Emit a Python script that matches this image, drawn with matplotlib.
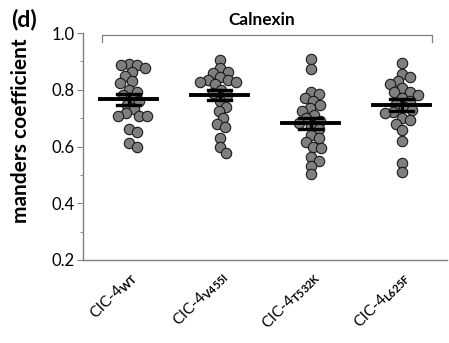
import numpy as np
import matplotlib
matplotlib.use('Agg')
import matplotlib.pyplot as plt

## Data
groups = ['WT', 'V455I', 'T532K', 'L625F']
wt = [0.891, 0.887, 0.887, 0.876, 0.864, 0.848, 0.832, 0.825, 0.80, 0.793, 0.78, 0.77,
      0.76, 0.745, 0.731, 0.717, 0.707, 0.707, 0.707, 0.66, 0.652, 0.613, 0.60]
v455i = [0.905, 0.876, 0.864, 0.858, 0.844, 0.834, 0.834, 0.828, 0.828, 0.82, 0.80, 0.79,
         0.78, 0.76, 0.74, 0.725, 0.70, 0.678, 0.668, 0.629, 0.60, 0.578]
t532k = [0.908, 0.873, 0.791, 0.785, 0.77, 0.762, 0.745, 0.735, 0.726, 0.71, 0.70, 0.69,
         0.682, 0.672, 0.66, 0.64, 0.63, 0.617, 0.60, 0.594, 0.562, 0.55, 0.531, 0.502]
l625f = [0.896, 0.855, 0.844, 0.83, 0.82, 0.805, 0.793, 0.793, 0.78, 0.77, 0.76, 0.75,
         0.74, 0.73, 0.723, 0.717, 0.70, 0.693, 0.68, 0.658, 0.62, 0.541, 0.511]
means = [0.766, 0.781, 0.682, 0.746]
sems = [0.019, 0.018, 0.020, 0.020]
yticks = [0.2, 0.4, 0.6, 0.8, 1.0]

plt.rcParams['font.family'] = ['Lato', 'DejaVu Sans']
plt.rcParams['mathtext.fontset'] = 'custom'
plt.rcParams['mathtext.rm'] = 'Lato'
plt.rcParams['mathtext.bf'] = 'Lato:bold'

W, H = 449, 343
fig = plt.figure(figsize=(W / 100, H / 100), dpi=100)
fig.patch.set_facecolor('white')
ax = fig.add_axes([83 / W, 1 - 260 / H, (447 - 83) / W, (260 - 33) / H])
ax.set_xlim(0.5, 4.5)
ax.set_ylim(0.2, 1.0)

# pixel scale, used to lay the points out as a loose beeswarm
px_x = (447 - 83) / 4.0
px_y = (260 - 33) / 0.8
dmin = 8.0


def swarm(vals):
    placed = []
    offs = []
    for v in vals:
        yp = v * px_y
        best = 0.0
        for k in range(0, 60):
            for cand in ([0.0] if k == 0 else [k * 1.0, -k * 1.0]):
                ok = all((cand - ox) ** 2 + (yp - oy) ** 2 >= dmin ** 2 for ox, oy in placed)
                if ok:
                    best = cand
                    break
            else:
                continue
            break
        placed.append((best, yp))
        offs.append(best / px_x)
    return np.array(offs)


for i, vals in enumerate([wt, v455i, t532k, l625f]):
    x = i + 1 + swarm(vals)
    ax.scatter(x, vals, s=56, color='#7f7f7f', edgecolor='#1a1a1a', linewidth=0.8, zorder=2)
    m, e = means[i], sems[i]
    ax.plot([i + 1 - 0.31, i + 1 + 0.31], [m, m], color='black', lw=2.8, zorder=3)
    ax.plot([i + 1 - 0.13, i + 1 + 0.13], [m + e, m + e], color='black', lw=2.4, zorder=3)
    ax.plot([i + 1 - 0.13, i + 1 + 0.13], [m - e, m - e], color='black', lw=2.4, zorder=3)
    ax.plot([i + 1, i + 1], [m - e, m + e], color='black', lw=2.4, zorder=3)

for s in ['top', 'right']:
    ax.spines[s].set_visible(False)
for s in ['left', 'bottom']:
    ax.spines[s].set_color('#808080')
    ax.spines[s].set_linewidth(1.0)

ax.set_yticks(yticks)
ax.set_yticks([0.3, 0.5, 0.7, 0.9], minor=True)
ax.set_yticklabels([f'{t:.1f}' for t in yticks], fontsize=12)
ax.tick_params(axis='y', which='major', length=4.5, color='#808080', pad=1.5)
ax.tick_params(axis='y', which='minor', length=2.5, color='#808080')

ax.set_xticks([1, 2, 3, 4])
ax.set_xticklabels([r'ClC-4$_{\mathbf{' + g + '}}$' for g in groups], rotation=45,
                   ha='right', rotation_mode='anchor', fontsize=11.2)
ax.tick_params(axis='x', length=0, pad=6)

fig.text(21 / W, 1 - 131 / H, 'manders coefficient', rotation=90, ha='center', va='center',
         fontsize=15, fontweight='bold')
fig.text(11 / W, 1 - 20 / H, '(d)', ha='left', va='center', fontsize=16.5, fontweight='bold')
fig.text(262 / W, 1 - 20 / H, 'Calnexin', ha='center', va='center', fontsize=12.4,
         fontweight='bold')

# bracket under the title
yb = 1 - 35 / H
fig.add_artist(plt.Line2D([102 / W, 102 / W, 432 / W, 432 / W],
                          [yb - 7 / H, yb, yb, yb - 7 / H],
                          transform=fig.transFigure, color='#808080', lw=0.9))

plt.savefig('out.png', dpi=100, facecolor='white')
